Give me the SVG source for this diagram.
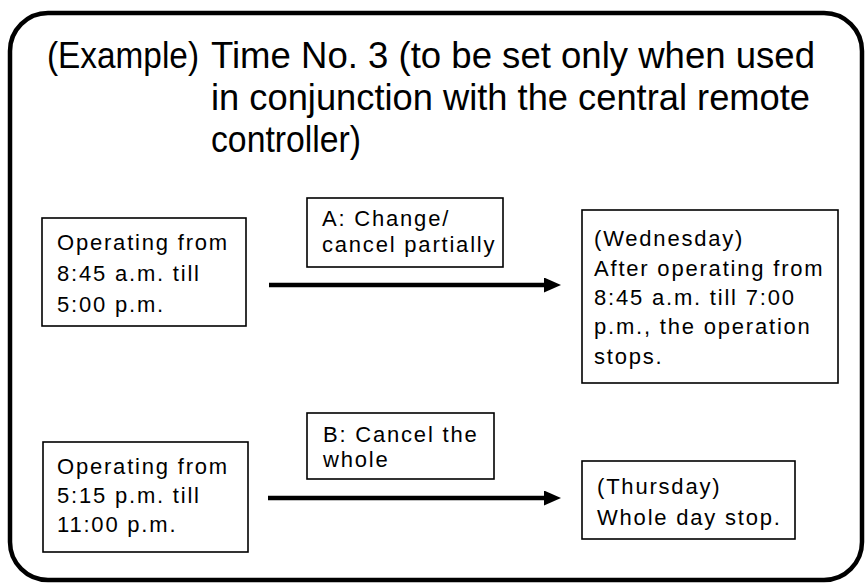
<svg xmlns="http://www.w3.org/2000/svg" width="867" height="585" viewBox="0 0 867 585">
<defs>
<style>
.frame{fill:none;stroke:#000;stroke-width:4.5}
.box{fill:#fff;stroke:#000;stroke-width:1.6}
.title{font-family:"Liberation Sans",Arial,Helvetica,sans-serif;font-size:37px;fill:#000}
.t{font-family:"Liberation Sans",Arial,Helvetica,sans-serif;font-size:22px;letter-spacing:1.8px;fill:#000}
.conn{stroke:#000;stroke-width:4.5;fill:none}
</style>
<marker id="ah" markerUnits="userSpaceOnUse" viewBox="0 0 17 15" refX="1" refY="7.5" markerWidth="17" markerHeight="15" orient="auto">
<path d="M0,0 L17,7.5 L0,15 z" fill="#000"/>
</marker>
</defs>
<rect width="867" height="585" fill="#fff"/>
<rect class="frame" x="10" y="13" width="852" height="567" rx="38" ry="38"/>
<g id="title">
<text class="title" x="47" y="68" textLength="152" lengthAdjust="spacingAndGlyphs">(Example)</text>
<text class="title" x="211" y="68" textLength="604" lengthAdjust="spacingAndGlyphs">Time No. 3 (to be set only when used</text>
<text class="title" x="211" y="110" textLength="599" lengthAdjust="spacingAndGlyphs">in conjunction with the central remote</text>
<text class="title" x="211" y="152" textLength="150" lengthAdjust="spacingAndGlyphs">controller)</text>
</g>
<g id="connectors">
<line class="conn" x1="269" y1="285" x2="545" y2="285" marker-end="url(#ah)"/>
<line class="conn" x1="268" y1="498" x2="545" y2="498" marker-end="url(#ah)"/>
</g>
<g id="node-a-start">
<rect class="box" x="42" y="218" width="204" height="108"/>
<text class="t" x="57" y="250">Operating from</text>
<text class="t" x="57" y="281">8:45 a.m. till</text>
<text class="t" x="57" y="312">5:00 p.m.</text>
</g>
<g id="label-a">
<rect class="box" x="307" y="198" width="196" height="69"/>
<text class="t" x="322" y="226">A: Change/</text>
<text class="t" x="322" y="252">cancel partially</text>
</g>
<g id="node-a-result">
<rect class="box" x="582" y="210" width="256" height="173"/>
<text class="t" x="594" y="246">(Wednesday)</text>
<text class="t" x="594" y="276">After operating from</text>
<text class="t" x="594" y="305">8:45 a.m. till 7:00</text>
<text class="t" x="594" y="334">p.m., the operation</text>
<text class="t" x="594" y="364">stops.</text>
</g>
<g id="node-b-start">
<rect class="box" x="43" y="442" width="205" height="110"/>
<text class="t" x="57" y="474">Operating from</text>
<text class="t" x="57" y="503">5:15 p.m. till</text>
<text class="t" x="57" y="532">11:00 p.m.</text>
</g>
<g id="label-b">
<rect class="box" x="307" y="413" width="187" height="66"/>
<text class="t" x="323" y="442">B: Cancel the</text>
<text class="t" x="323" y="467">whole</text>
</g>
<g id="node-b-result">
<rect class="box" x="582" y="461" width="213" height="78"/>
<text class="t" x="597" y="494">(Thursday)</text>
<text class="t" x="597" y="525">Whole day stop.</text>
</g>
</svg>
